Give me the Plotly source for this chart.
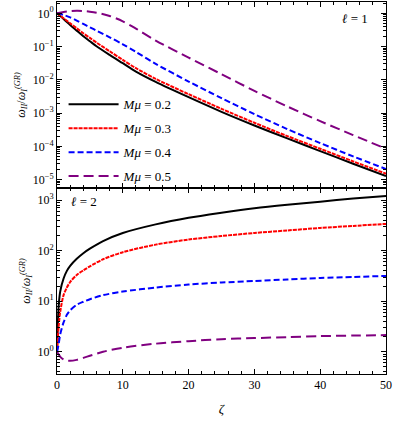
import plotly.graph_objects as go
from plotly.subplots import make_subplots

# ---- data (log10 of omega_II / omega_I^(GR)) ----
masses = ["0.2", "0.3", "0.4", "0.5"]
colors = ["#000000", "#ff0000", "#0000ff", "#800080"]
dashes = ["solid", "4px,1px", "6px,3px", "10px,5px"]

zeta_l1 = [0, 1, 2, 3, 4, 5, 6, 8, 10, 12, 15, 20, 25, 30, 35, 40, 45, 50]
l1_m02 = [0, -0.17, -0.35, -0.52, -0.69, -0.84, -0.99, -1.25, -1.50, -1.75, -2.06, -2.52, -2.96, -3.37, -3.76, -4.14, -4.52, -4.89]
l1_m03 = [0, -0.15, -0.30, -0.45, -0.60, -0.74, -0.88, -1.14, -1.40, -1.65, -1.97, -2.43, -2.87, -3.29, -3.69, -4.07, -4.45, -4.82]
l1_m04 = [0, -0.05, -0.12, -0.22, -0.32, -0.42, -0.52, -0.72, -0.93, -1.16, -1.52, -2.05, -2.55, -3.03, -3.48, -3.90, -4.30, -4.68]
l1_m05 = [0, 0.04, 0.065, 0.075, 0.07, 0.05, 0.02, -0.08, -0.24, -0.46, -0.82, -1.33, -1.83, -2.33, -2.80, -3.24, -3.66, -4.07]

zeta_l2 = [0, 0.25, 0.5, 1, 1.5, 2, 3, 4, 5, 7, 10, 15, 20, 25, 30, 35, 40, 45, 50]
l2_m02 = [0, 0.9, 1.2, 1.45, 1.60, 1.70, 1.84, 1.95, 2.04, 2.19, 2.35, 2.52, 2.65, 2.75, 2.84, 2.91, 2.97, 3.03, 3.08]
l2_m03 = [0, 0.5, 0.8, 1.12, 1.27, 1.38, 1.52, 1.61, 1.69, 1.83, 1.97, 2.12, 2.22, 2.29, 2.35, 2.40, 2.45, 2.49, 2.53]
l2_m04 = [0, 0.15, 0.35, 0.58, 0.73, 0.82, 0.93, 0.99, 1.04, 1.12, 1.19, 1.27, 1.33, 1.37, 1.40, 1.43, 1.46, 1.48, 1.50]
l2_m05 = [0, -0.05, -0.10, -0.15, -0.17, -0.18, -0.16, -0.12, -0.08, 0.0, 0.08, 0.16, 0.21, 0.25, 0.27, 0.29, 0.31, 0.32, 0.33]

x_ticks = [0, 10, 20, 30, 40, 50]
l1_tick_exp = [0, -1, -2, -3, -4, -5]
l2_tick_exp = [0, 1, 2, 3]

FONT = "Liberation Serif"

fig = make_subplots(rows=2, cols=1, shared_xaxes=True, vertical_spacing=0)

for i, (m, c, d) in enumerate(zip(masses, colors, dashes)):
    ys1 = [l1_m02, l1_m03, l1_m04, l1_m05][i]
    ys2 = [l2_m02, l2_m03, l2_m04, l2_m05][i]
    fig.add_trace(go.Scatter(x=zeta_l1, y=[10 ** v for v in ys1], mode="lines",
                             line=dict(color=c, width=2, dash=d, shape="spline", smoothing=0.8),
                             name=f"<i>Mμ</i> = {m}", legendgroup=m), row=1, col=1)
    fig.add_trace(go.Scatter(x=zeta_l2, y=[10 ** v for v in ys2], mode="lines",
                             line=dict(color=c, width=2, dash=d, shape="spline", smoothing=0.8),
                             name=f"<i>Mμ</i> = {m}", legendgroup=m, showlegend=False), row=2, col=1)

def sup_label(e):
    s = str(e).replace("-", "−")
    return f"10<sup>{s}</sup>"

def minor_vals(lo, hi):
    out = []
    for k in range(lo, hi + 1):
        for j in range(2, 10):
            out.append(j * 10 ** k)
    return out

axis_common = dict(showline=True, linecolor="black", linewidth=1, mirror="allticks",
                   ticks="inside", tickcolor="black", showgrid=False, zeroline=False,
                   automargin=False,
                   tickfont=dict(family=FONT, size=12, color="black"))

fig.update_xaxes(**axis_common, range=[0, 50], tickvals=x_ticks, ticklen=5,
                 minor=dict(dtick=2, tick0=0, ticks="inside", ticklen=3, tickcolor="black"))
fig.update_xaxes(showticklabels=False, row=1, col=1)
fig.update_xaxes(title=dict(text="<i>ζ</i>", font=dict(family=FONT, size=13, color="black"), standoff=12),
                 row=2, col=1)

ytitle = "<i>ω<sub>II</sub></i>/<i>ω<sub>I</sub><sup>(GR)</sup></i>"
fig.update_yaxes(**axis_common, type="log", range=[-5.25, 0.34], ticklen=5,
                 tickvals=[10 ** e for e in l1_tick_exp], ticktext=[sup_label(e) for e in l1_tick_exp],
                 minor=dict(tickvals=minor_vals(-6, 0), ticks="inside", ticklen=3, tickcolor="black"),
                 title=dict(text=ytitle, font=dict(family=FONT, size=12, color="black"), standoff=4),
                 row=1, col=1)
fig.update_yaxes(**axis_common, type="log", range=[-0.44, 3.24], ticklen=5,
                 tickvals=[10 ** e for e in l2_tick_exp], ticktext=[sup_label(e) for e in l2_tick_exp],
                 minor=dict(tickvals=minor_vals(-1, 3), ticks="inside", ticklen=3, tickcolor="black"),
                 title=dict(text=ytitle, font=dict(family=FONT, size=12, color="black"), standoff=4),
                 row=2, col=1)

fig.add_annotation(text="<i>ℓ</i> = 1", xref="x domain", yref="y domain", x=0.95, y=0.96,
                   xanchor="right", yanchor="top", showarrow=False,
                   font=dict(family=FONT, size=13, color="black"), row=1, col=1)
fig.add_annotation(text="<i>ℓ</i> = 2", xref="x2 domain", yref="y2 domain", x=0.035, y=0.98,
                   xanchor="left", yanchor="top", showarrow=False,
                   font=dict(family=FONT, size=13, color="black"), row=2, col=1)

fig.update_layout(
    width=395, height=425,
    margin=dict(l=57, r=9, t=2, b=51),
    paper_bgcolor="white", plot_bgcolor="white",
    showlegend=True,
    legend=dict(x=0.02, y=0.765, xanchor="left", yanchor="top", bgcolor="rgba(0,0,0,0)",
                font=dict(family=FONT, size=13, color="black"), itemwidth=50,
                traceorder="grouped", tracegroupgap=4),
    font=dict(family=FONT, color="black"),
)

fig.write_html("out.html", config={"displayModeBar": False},
               post_script="document.body.style.margin='0';")
